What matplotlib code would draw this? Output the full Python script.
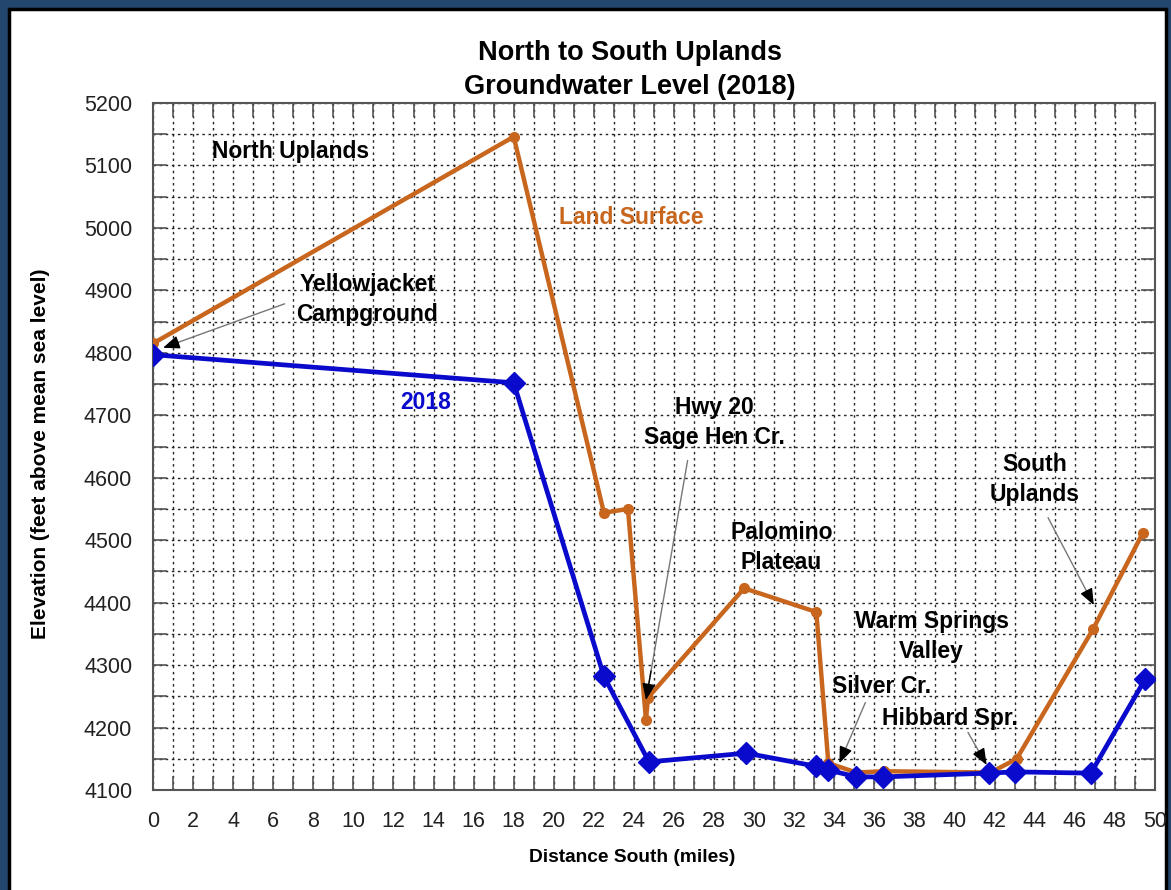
import matplotlib
matplotlib.use('agg')
import matplotlib.pyplot as plt
from matplotlib.patches import Rectangle
from matplotlib.ticker import MultipleLocator

plt.rcParams['font.family'] = ['Liberation Sans', 'DejaVu Sans']

# land surface profile (miles south, feet)
land_dist = [0, 18, 22.5, 23.7, 24.6, 24.7, 29.5, 33.1, 33.7, 35.1, 36.5, 41.8, 43.1, 46.9, 49.4]
land_elev = [4815, 5146, 4544, 4550, 4212, 4248, 4423, 4385, 4143, 4128, 4130, 4128, 4150, 4357, 4512]

# 2018 groundwater level
gw_dist = [0, 18, 22.5, 24.75, 29.6, 33.1, 33.7, 35.1, 36.45, 41.7, 43.0, 46.8, 49.5]
gw_elev = [4797, 4752, 4282, 4145, 4159, 4138, 4132, 4121, 4121, 4127, 4129, 4127, 4277]

orange = '#c8661e'
blue = '#0a0acd'

fig = plt.figure(figsize=(11.71, 8.90), dpi=100)
fig.patch.set_facecolor('#23466f')
panel = Rectangle((9 / 1171, -0.01), 1157 / 1171, 1.01 - 9 / 890, transform=fig.transFigure,
                  facecolor='white', edgecolor='black', linewidth=2.5, zorder=-10)
fig.add_artist(panel)

ax = fig.add_axes([153 / 1171, 1 - 790 / 890, 1002 / 1171, 687 / 890])
ax.set_zorder(2)
ax.set_facecolor('white')
ax.set_xlim(0, 50)
ax.set_ylim(4100, 5200)

ax.plot(land_dist, land_elev, color=orange, lw=3.2, marker='o', ms=7, zorder=3)
ax.plot(gw_dist, gw_elev, color=blue, lw=3.4, marker='D', ms=11, zorder=4)

ax.xaxis.set_major_locator(MultipleLocator(2))
ax.xaxis.set_minor_locator(MultipleLocator(1))
ax.yaxis.set_major_locator(MultipleLocator(100))
ax.yaxis.set_minor_locator(MultipleLocator(50))
ax.grid(which='both', color='#222222', linestyle=(0, (1.8, 2.6)), linewidth=1.0, zorder=1)
ax.tick_params(which='both', direction='in', top=True, right=True, length=10, width=1.2,
               color='#555555', labelsize=15.5, pad=15, labelcolor='#222222')
for s in ax.spines.values():
    s.set_color('#555555')
    s.set_linewidth(1.5)

fig.text(630 / 1171, 1 - 70 / 890, 'North to South Uplands\nGroundwater Level (2018)',
         ha='center', va='center', fontsize=19.5, fontweight='bold', linespacing=1.4)
fig.text(632 / 1171, 1 - 858 / 890, 'Distance South (miles)', ha='center', va='center',
         fontsize=13.8, fontweight='bold')
fig.text(41 / 1171, 1 - 454 / 890, 'Elevation (feet above mean sea level)', ha='center', va='center',
         rotation=90, fontsize=15, fontweight='bold')

tkw = dict(ha='center', va='center', fontsize=16.5, fontweight='bold', zorder=5, linespacing=1.4)
ax.text(6.85, 5122, 'North Uplands', **tkw)
ax.text(23.85, 5016, 'Land Surface', color=orange, **tkw)
ax.text(13.6, 4720, '2018', color=blue, **tkw)
ax.text(10.7, 4886, 'Yellowjacket\nCampground', **tkw)
ax.text(28.0, 4689, 'Hwy 20\nSage Hen Cr.', **tkw)
ax.text(31.35, 4488, 'Palomino\nPlateau', **tkw)
ax.text(38.85, 4346, 'Warm Springs\nValley', **tkw)
ax.text(36.35, 4266, 'Silver Cr.', **tkw)
ax.text(39.75, 4215, 'Hibbard Spr.', **tkw)
ax.text(44.0, 4597, 'South\nUplands', **tkw)

# (tail, head) for pointer arrows
arrows = [((6.7, 4880), (0.5, 4808)),
          ((26.7, 4632), (24.6, 4244)),
          ((35.6, 4244), (34.25, 4143)),
          ((40.6, 4196), (41.6, 4140)),
          ((44.6, 4540), (46.95, 4396))]
for (tx, ty), (hx, hy) in arrows:
    ax.annotate('', xy=(hx, hy), xytext=(tx, ty),
                arrowprops=dict(arrowstyle='-', color='#777777', lw=1.0), zorder=5)
    bx = hx + 0.12 * (tx - hx)
    by = hy + 0.12 * (ty - hy)
    ax.annotate('', xy=(hx, hy), xytext=(bx, by),
                arrowprops=dict(arrowstyle='-|>,head_length=1.0,head_width=0.4',
                                color='black', lw=1.0, shrinkA=0, shrinkB=0), zorder=6)

plt.savefig('out.png', dpi=100, facecolor=fig.get_facecolor())
